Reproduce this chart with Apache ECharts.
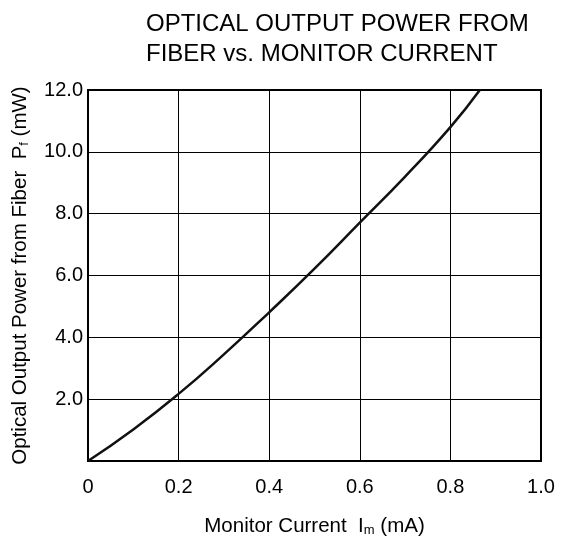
<!DOCTYPE html>
<html>
<head>
<meta charset="utf-8">
<script src="https://cdn.jsdelivr.net/npm/echarts@6/dist/echarts.min.js"></script>
<style>
  html, body { margin: 0; padding: 0; background: #fff; }
  #chart { width: 568px; height: 542px; }
</style>
</head>
<body>
<div id="chart"></div>
<script>
// monitor current (mA) and fiber output power (mW)
var current = [0, 0.1, 0.2, 0.3, 0.4, 0.5, 0.6, 0.7, 0.8, 0.865]
var power = [0, 1.02, 2.17, 3.45, 4.81, 6.22, 7.71, 9.2, 10.8, 12.0]
var xTickLabels = ['0', '0.2', '0.4', '0.6', '0.8', '1.0']
var yTickLabels = ['', '2.0', '4.0', '6.0', '8.0', '10.0', '12.0']

var font = '"Liberation Sans", Arial, sans-serif'
var chart = echarts.init(document.getElementById('chart'))

var points = current.map(function (c, i) { return [c, power[i]] })

chart.setOption({
    animation: false,
    title: {
        text: 'OPTICAL OUTPUT POWER FROM\nFIBER vs. MONITOR CURRENT',
        left: 141,
        top: 4,
        textStyle: {
            fontFamily: font,
            fontSize: 24,
            fontWeight: 'normal',
            lineHeight: 30,
            color: '#000'
        }
    },
    grid: {
        left: 88,
        right: 27,
        top: 90,
        bottom: 75,
        show: true,
        borderColor: '#000',
        borderWidth: 2,
        containLabel: false
    },
    xAxis: {
        type: 'value',
        min: 0,
        max: 1,
        interval: 0.2,
        axisLine: { show: true, lineStyle: { color: '#000', width: 2 } },
        axisTick: { show: false },
        splitLine: { show: true, lineStyle: { color: '#000', width: 1 } },
        axisLabel: {
            margin: 16,
            fontFamily: font,
            fontSize: 20,
            color: '#000',
            formatter: function (v, i) { return xTickLabels[i] }
        },
        name: '{a|Monitor Current  I}{s|m}{a| (mA)}',
        nameLocation: 'middle',
        nameGap: 55,
        nameTextStyle: {
            rich: {
                a: { fontFamily: font, fontSize: 20.5, color: '#000' },
                s: { fontFamily: font, fontSize: 13, color: '#000', verticalAlign: 'bottom' }
            }
        }
    },
    yAxis: {
        type: 'value',
        min: 0,
        max: 12,
        interval: 2,
        axisLine: { show: true, lineStyle: { color: '#000', width: 2 } },
        axisTick: { show: false },
        splitLine: { show: true, lineStyle: { color: '#000', width: 1 } },
        axisLabel: {
            margin: 5,
            fontFamily: font,
            fontSize: 20,
            color: '#000',
            formatter: function (v, i) { return yTickLabels[i] }
        },
        name: '{a|Optical Output Power from Fiber  P}{s|f}{a| (mW)}',
        nameLocation: 'middle',
        nameRotate: 90,
        nameGap: 57,
        nameTextStyle: {
            rich: {
                a: { fontFamily: font, fontSize: 20.5, color: '#000' },
                s: { fontFamily: font, fontSize: 13, color: '#000', verticalAlign: 'bottom' }
            }
        }
    },
    series: [{
        type: 'line',
        data: points,
        smooth: true,
        showSymbol: false,
        lineStyle: { color: '#111', width: 2.5 }
    }]
})
</script>
</body>
</html>
